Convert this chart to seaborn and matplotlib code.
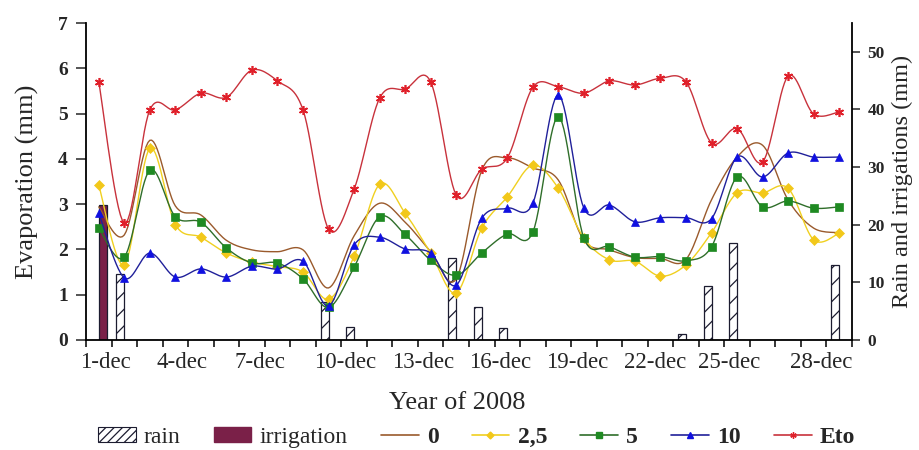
import numpy as np
import pandas as pd
import matplotlib
matplotlib.use("Agg")
import matplotlib.pyplot as plt
import seaborn as sns
from matplotlib.lines import Line2D
from matplotlib.patches import Patch

# ---------------- data ----------------
days = list(range(1, 31))  # 1-dec ... 30-dec
tick_labels = ["1-dec", "4-dec", "7-dec", "10-dec", "13-dec",
               "16-dec", "19-dec", "22-dec", "25-dec", "28-dec"]

evap_0 = [2.94, 2.32, 4.41, 2.96, 2.76, 2.20, 1.99, 1.95, 1.99, 1.15,
          2.30, 3.02, 2.60, 1.95, 1.35, 3.75, 4.02, 3.80, 3.53, 2.20,
          1.99, 1.82, 1.80, 1.78, 3.10, 4.04, 4.30, 3.09, 2.47, 2.37]
evap_25 = [3.42, 1.66, 4.23, 2.55, 2.27, 1.92, 1.72, 1.62, 1.50, 0.90,
           1.85, 3.44, 2.80, 1.92, 1.04, 2.47, 3.16, 3.86, 3.35, 2.25,
           1.77, 1.74, 1.41, 1.66, 2.37, 3.25, 3.25, 3.35, 2.21, 2.36]
evap_5 = [2.47, 1.83, 3.75, 2.72, 2.60, 2.03, 1.70, 1.70, 1.35, 0.72,
          1.61, 2.72, 2.33, 1.76, 1.43, 1.92, 2.34, 2.38, 4.93, 2.25,
          2.06, 1.83, 1.84, 1.75, 2.06, 3.60, 2.94, 3.07, 2.91, 2.94]
evap_10 = [2.80, 1.37, 1.92, 1.39, 1.57, 1.39, 1.63, 1.57, 1.74, 0.75,
           2.10, 2.27, 2.01, 1.92, 1.21, 2.69, 2.91, 3.02, 5.41, 2.91,
           2.98, 2.61, 2.70, 2.70, 2.68, 4.04, 3.60, 4.13, 4.04, 4.04]
eto = [5.70, 2.58, 5.08, 5.08, 5.45, 5.36, 5.96, 5.72, 5.08, 2.45,
       3.33, 5.34, 5.54, 5.70, 3.20, 3.77, 4.02, 5.58, 5.59, 5.45,
       5.72, 5.63, 5.78, 5.70, 4.35, 4.67, 3.93, 5.83, 4.99, 5.04]

rain = [0, 11.5, 0, 0, 0, 0, 0, 0, 0, 6.6,
        2.3, 0, 0, 0, 14.2, 5.8, 2.0, 0, 0, 0,
        0, 0, 0, 1.1, 9.3, 16.8, 0, 0, 0, 13.0]
irrigation = [23.4, 0, 0, 0, 0, 0, 0, 0, 0, 0,
              0, 0, 0, 0, 0, 0, 0, 0, 0, 0,
              0, 0, 0, 0, 0, 0, 0, 0, 0, 0]

# ---------------- layout / style (not data) ----------------
label_pos = [0.25, 3.25, 6.3, 9.65, 12.7, 15.7, 18.75, 21.8, 24.7, 28.3]

sns.set_style("ticks")
plt.rcParams["font.family"] = ["Liberation Serif", "DejaVu Serif"]
plt.rcParams["hatch.color"] = "#1c1c40"
plt.rcParams["hatch.linewidth"] = 0.9


def smooth(x, y, n=14):
    """Excel-like smoothed curve through the points (Bezier, Catmull-Rom tangents)."""
    x = np.asarray(x, float)
    y = np.asarray(y, float)
    xs, ys = [], []
    t = np.linspace(0, 1, n, endpoint=False)
    m = len(x)
    for i in range(m - 1):
        i0 = max(i - 1, 0)
        i3 = min(i + 2, m - 1)
        for arr, out in ((x, xs), (y, ys)):
            p0, p1, p2, p3 = arr[i0], arr[i], arr[i + 1], arr[i3]
            c1 = p1 + (p2 - p0) / 6.0
            c2 = p2 - (p3 - p1) / 6.0
            out.extend((1 - t) ** 3 * p1 + 3 * (1 - t) ** 2 * t * c1
                       + 3 * (1 - t) * t ** 2 * c2 + t ** 3 * p2)
    xs.append(x[-1])
    ys.append(y[-1])
    return np.array(xs), np.array(ys)


fig = plt.figure(figsize=(9.2, 4.5), dpi=100)
ax = fig.add_axes([86 / 920, 110 / 450, 766 / 920, 317 / 450])
axb = ax.twinx()

# ---- bars (right axis) ----
n = len(days)
xpos = np.arange(n)
df = pd.DataFrame({
    "day": np.concatenate([xpos, xpos]),
    "kind": ["rain"] * n + ["irrigation"] * n,
    "mm": list(rain) + list(irrigation),
})
irr_color = "#7a2048"
sns.barplot(data=df, x="day", y="mm", hue="kind", hue_order=["rain", "irrigation"],
            palette={"rain": "white", "irrigation": irr_color}, width=0.62,
            saturation=1, edgecolor="#1c1c30", linewidth=0.9, legend=False, ax=axb)
for p in axb.containers[0]:
    p.set_hatch("//")

# ---- lines (left axis) ----
series = [
    ("0", evap_0, "#9a5a2c", "#9a5a2c", None, 0),
    ("2,5", evap_25, "#f0d020", "#f2c81a", "D", 5.0),
    ("5", evap_5, "#2f6e2a", "#1f8a22", "s", 5.2),
    ("10", evap_10, "#20209a", "#1010e0", "^", 6.0),
    ("Eto", eto, "#c8323c", "#e0202a", (6, 2, 0), 6.5),
]
for name, vals, lc, mc, mk, ms in series:
    sx, sy = smooth(xpos, vals)
    sns.lineplot(x=sx, y=sy, sort=False, estimator=None, color=lc, lw=1.0, ax=ax)
    if mk is not None:
        ax.plot(xpos, vals, ls="none", marker=mk, ms=ms, color=mc,
                mec=mc, mew=1.2 if mk == (6, 2, 0) else 0.5)

ax.set_zorder(axb.get_zorder() + 1)
ax.patch.set_visible(False)

# ---- axes formatting ----
ax.set_xlim(-0.5, n - 0.5)
ax.set_ylim(0, 7)
axb.set_ylim(0, 55)

ax.set_xticks(np.arange(-0.5, n, 1.0))
ax.set_xticklabels([])
ax.set_xticks(label_pos, minor=True)
ax.set_xticklabels(tick_labels, minor=True, fontsize=16.5)
ax.tick_params(axis="x", which="major", direction="out", length=5, width=1.1, color="black")
ax.tick_params(axis="x", which="minor", length=0, pad=9)

ax.set_yticks(range(0, 8))
ax.set_yticklabels([str(v) for v in range(0, 8)], fontsize=14, fontweight="bold")
ax.tick_params(axis="y", direction="out", length=7, width=1.1, pad=6)

axb.set_yticks(range(0, 51, 10))
axb.set_yticklabels([str(v) for v in range(0, 51, 10)], fontsize=12.5, fontweight="bold")
axb.tick_params(axis="y", direction="out", length=6, width=1.1, pad=5)

for s in ["top", "right"]:
    ax.spines[s].set_visible(False)
for s in ["top", "left", "bottom"]:
    axb.spines[s].set_visible(False)
for sp in [ax.spines["left"], ax.spines["bottom"], axb.spines["right"]]:
    sp.set_linewidth(1.3)
    sp.set_color("black")

ax.set_xlabel("Year of 2008", fontsize=19)
ax.xaxis.set_label_coords(0.485, -0.163)
ax.set_ylabel("Evaporation (mm)", fontsize=19)
ax.yaxis.set_label_coords(-0.062, 0.5)
axb.set_ylabel("Rain and irrigations (mm)", fontsize=17.5, rotation=90)
axb.yaxis.set_label_coords(1.052, 0.5)

# ---- legend ----
handles = [
    Patch(facecolor="white", edgecolor="#1c1c30", hatch="////", lw=0.8),
    Patch(facecolor=irr_color, edgecolor=irr_color),
]
labels = ["rain", "irrigation"]
for name, vals, lc, mc, mk, ms in series:
    handles.append(Line2D([0], [0], color=lc, lw=1.2, marker=mk, ms=ms * 0.7,
                          mfc=mc, mec=mc))
    labels.append(name)
leg = fig.legend(handles, labels, loc="center", bbox_to_anchor=(0.518, 0.028),
                 ncol=7, frameon=False, fontsize=17, handlelength=1.6,
                 handletextpad=0.35, columnspacing=1.4, handleheight=0.6)
for t in leg.get_texts()[2:]:
    t.set_fontweight("bold")

fig.savefig("out.png", dpi=100)
